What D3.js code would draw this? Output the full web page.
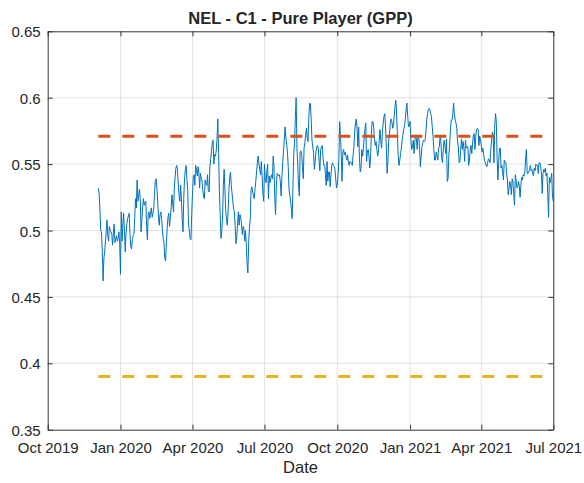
<!DOCTYPE html>
<html>
<head>
<meta charset="utf-8">
<script src="https://cdn.jsdelivr.net/npm/d3@7"></script>
<style>
  html, body { margin: 0; padding: 0; background: #fff; }
  svg { display: block; }
  text { font-family: "Liberation Sans", Arial, Helvetica, sans-serif; fill: #262626; }
</style>
</head>
<body>
<svg id="chart" width="584" height="483"></svg>
<script>
// Daily GPP series, one value per day starting at seriesStart
const seriesStart = "2019-12-04";
const gppValues = [
  0.532,0.528,0.515,0.500,0.499,0.484,0.462,0.479,0.484,0.492,
  0.500,0.508,0.495,0.492,0.503,0.500,0.499,0.497,0.489,0.498,
  0.505,0.491,0.494,0.496,0.492,0.494,0.499,0.490,0.467,0.514,
  0.492,0.505,0.513,0.499,0.484,0.498,0.505,0.509,0.511,0.513,
  0.497,0.488,0.486,0.494,0.496,0.497,0.510,0.524,0.517,0.538,
  0.522,0.526,0.531,0.524,0.499,0.508,0.518,0.524,0.519,0.521,
  0.522,0.503,0.493,0.512,0.514,0.509,0.514,0.517,0.510,0.513,
  0.516,0.528,0.537,0.539,0.532,0.522,0.510,0.504,0.512,0.514,
  0.509,0.500,0.494,0.491,0.479,0.477,0.491,0.502,0.510,0.513,
  0.503,0.510,0.517,0.527,0.520,0.514,0.531,0.540,0.547,0.549,
  0.546,0.535,0.527,0.522,0.534,0.524,0.508,0.499,0.525,0.540,
  0.546,0.549,0.538,0.530,0.504,0.500,0.494,0.493,0.512,0.528,
  0.540,0.542,0.534,0.549,0.546,0.541,0.548,0.544,0.532,0.543,
  0.540,0.538,0.530,0.526,0.524,0.538,0.535,0.534,0.542,0.530,
  0.529,0.548,0.554,0.560,0.566,0.568,0.550,0.557,0.556,0.560,
  0.569,0.584,0.558,0.530,0.512,0.494,0.500,0.510,0.534,0.546,
  0.530,0.515,0.508,0.504,0.514,0.530,0.540,0.544,0.534,0.528,
  0.522,0.516,0.514,0.502,0.490,0.495,0.506,0.514,0.504,0.512,
  0.509,0.505,0.497,0.503,0.501,0.492,0.500,0.489,0.475,0.468,
  0.491,0.502,0.509,0.530,0.533,0.529,0.527,0.524,0.531,0.537,
  0.544,0.551,0.556,0.550,0.546,0.542,0.552,0.540,0.528,0.522,
  0.550,0.539,0.536,0.545,0.550,0.524,0.541,0.536,0.540,0.542,
  0.539,0.556,0.548,0.524,0.512,0.534,0.543,0.542,0.541,0.542,
  0.537,0.526,0.540,0.551,0.560,0.568,0.578,0.570,0.565,0.559,
  0.548,0.531,0.526,0.522,0.516,0.509,0.534,0.558,0.566,0.585,
  0.600,0.562,0.550,0.534,0.526,0.559,0.560,0.557,0.548,0.539,
  0.562,0.566,0.572,0.577,0.570,0.567,0.585,0.596,0.595,0.584,
  0.568,0.563,0.559,0.546,0.552,0.559,0.563,0.564,0.562,0.552,
  0.545,0.561,0.563,0.564,0.555,0.549,0.549,0.542,0.534,0.552,
  0.537,0.544,0.544,0.533,0.542,0.549,0.551,0.549,0.548,0.546,
  0.539,0.532,0.534,0.542,0.554,0.582,0.572,0.557,0.537,0.559,
  0.561,0.557,0.559,0.556,0.553,0.557,0.551,0.549,0.552,0.551,
  0.551,0.549,0.557,0.563,0.574,0.581,0.584,0.577,0.563,0.578,
  0.554,0.544,0.547,0.561,0.556,0.562,0.569,0.577,0.581,0.552,
  0.559,0.561,0.557,0.547,0.554,0.572,0.582,0.582,0.578,0.569,
  0.564,0.567,0.561,0.556,0.559,0.568,0.576,0.567,0.562,0.574,
  0.581,0.586,0.588,0.578,0.562,0.543,0.552,0.568,0.573,0.581,
  0.584,0.582,0.577,0.579,0.587,0.594,0.598,0.587,0.572,0.556,
  0.549,0.553,0.558,0.562,0.568,0.572,0.576,0.579,0.584,0.591,
  0.596,0.586,0.578,0.579,0.582,0.568,0.561,0.563,0.568,0.558,
  0.567,0.572,0.569,0.561,0.572,0.571,0.562,0.548,0.556,0.563,
  0.566,0.568,0.567,0.568,0.574,0.583,0.588,0.591,0.592,0.591,
  0.588,0.586,0.578,0.571,0.561,0.553,0.553,0.559,0.556,0.553,
  0.562,0.563,0.572,0.566,0.554,0.551,0.562,0.568,0.564,0.558,
  0.569,0.537,0.539,0.557,0.564,0.576,0.583,0.583,0.588,0.596,
  0.588,0.583,0.581,0.577,0.567,0.563,0.551,0.552,0.561,0.569,
  0.561,0.567,0.562,0.552,0.568,0.562,0.563,0.563,0.549,0.553,
  0.561,0.564,0.558,0.566,0.572,0.573,0.561,0.571,0.576,0.577,
  0.576,0.564,0.571,0.568,0.564,0.559,0.562,0.557,0.553,0.551,
  0.549,0.548,0.551,0.554,0.553,0.551,0.561,0.568,0.574,0.572,
  0.551,0.579,0.588,0.582,0.554,0.538,0.552,0.562,0.562,0.547,
  0.549,0.544,0.538,0.553,0.552,0.551,0.543,0.538,0.527,0.532,
  0.537,0.534,0.527,0.539,0.537,0.527,0.519,0.542,0.538,0.532,
  0.533,0.537,0.534,0.525,0.534,0.540,0.538,0.542,0.541,0.544,
  0.554,0.561,0.543,0.543,0.544,0.546,0.549,0.545,0.546,0.543,
  0.541,0.547,0.545,0.550,0.549,0.549,0.543,0.551,0.551,0.548,
  0.543,0.528,0.543,0.546,0.544,0.547,0.541,0.543,0.527,0.510,
  0.540,0.536,0.539,0.543,0.525,0.522
];

// Horizontal reference levels
const refLevels = [0.571, 0.39];
const refColors = ["#D95319", "#EDB120"];

// Axis ticks
const xTickDates = ["2019-10-01", "2020-01-01", "2020-04-01", "2020-07-01",
                    "2020-10-01", "2021-01-01", "2021-04-01", "2021-07-01"];
const yTicks = [0.35, 0.4, 0.45, 0.5, 0.55, 0.6, 0.65];
const yDomain = [0.35, 0.65];

const titleText = "NEL - C1 - Pure Player (GPP)";
const xLabelText = "Date";

const parse = d3.utcParse("%Y-%m-%d");
const xTicks = xTickDates.map(parse);
const start = parse(seriesStart);
const series = gppValues.map((v, i) => ({ date: d3.utcDay.offset(start, i), value: v }));

const plot = { left: 47.7, right: 553.3, top: 31.3, bottom: 429.7 };

const x = d3.scaleUtc()
  .domain([xTicks[0], xTicks[xTicks.length - 1]])
  .range([plot.left, plot.right]);
const y = d3.scaleLinear().domain(yDomain).range([plot.bottom, plot.top]);

const svg = d3.select("#chart");
const axisColor = "#333333";
const tickFmt = d3.utcFormat("%b %Y");

// Grid
const grid = svg.append("g").attr("stroke", "#262626").attr("stroke-opacity", 0.13).attr("stroke-width", 1);
grid.selectAll("line.gx").data(xTicks.slice(1, -1)).join("line")
  .attr("x1", d => x(d)).attr("x2", d => x(d))
  .attr("y1", plot.top).attr("y2", plot.bottom);
grid.selectAll("line.gy").data(yTicks.slice(1, -1)).join("line")
  .attr("x1", plot.left).attr("x2", plot.right)
  .attr("y1", d => y(d)).attr("y2", d => y(d));

// Series line
const line = d3.line().x(d => x(d.date)).y(d => y(d.value));
svg.append("path")
  .datum(series)
  .attr("fill", "none")
  .attr("stroke", "#0072BD")
  .attr("stroke-width", 1)
  .attr("stroke-linejoin", "round")
  .attr("d", line);

// Dashed reference levels spanning the series dates
const first = series[0].date, last = series[series.length - 1].date;
svg.selectAll("line.ref").data(refLevels).join("line")
  .attr("x1", x(first)).attr("x2", x(last))
  .attr("y1", d => y(d)).attr("y2", d => y(d))
  .attr("stroke", (d, i) => refColors[i])
  .attr("stroke-width", 3)
  .attr("stroke-dasharray", "12,12");

// Axes (bottom/left with labels, top/right mirror ticks), ticks pointing inward
const tickLen = 5;
const gB = svg.append("g").attr("transform", `translate(0,${plot.bottom})`)
  .call(d3.axisBottom(x).tickValues(xTicks).tickFormat(tickFmt).tickSizeInner(-tickLen).tickSizeOuter(0).tickPadding(0));
const gT = svg.append("g").attr("transform", `translate(0,${plot.top})`)
  .call(d3.axisTop(x).tickValues(xTicks).tickFormat("").tickSizeInner(-tickLen).tickSizeOuter(0));
const gL = svg.append("g").attr("transform", `translate(${plot.left},0)`)
  .call(d3.axisLeft(y).tickValues(yTicks).tickFormat(d3.format("")).tickSizeInner(-tickLen).tickSizeOuter(0).tickPadding(0));
const gR = svg.append("g").attr("transform", `translate(${plot.right},0)`)
  .call(d3.axisRight(y).tickValues(yTicks).tickFormat("").tickSizeInner(-tickLen).tickSizeOuter(0));

[gB, gT, gL, gR].forEach(g => {
  g.select(".domain").attr("stroke", axisColor).attr("stroke-width", 1);
  g.selectAll(".tick line").attr("stroke", axisColor).attr("stroke-width", 1);
  g.attr("font-family", null).attr("font-size", null);
});

gB.selectAll(".tick text")
  .attr("y", 23).attr("dy", null)
  .style("font-size", "15px").attr("fill", "#262626");
gL.selectAll(".tick text")
  .attr("x", -7).attr("dy", null).attr("y", 5.5)
  .style("font-size", "15px").attr("fill", "#262626");

// Title and axis label
svg.append("text")
  .attr("x", (plot.left + plot.right) / 2).attr("y", 24)
  .attr("text-anchor", "middle")
  .style("font-size", "16.5px").style("font-weight", "bold")
  .text(titleText);
svg.append("text")
  .attr("x", (plot.left + plot.right) / 2).attr("y", 473)
  .attr("text-anchor", "middle")
  .style("font-size", "16.5px")
  .text(xLabelText);
</script>
</body>
</html>
